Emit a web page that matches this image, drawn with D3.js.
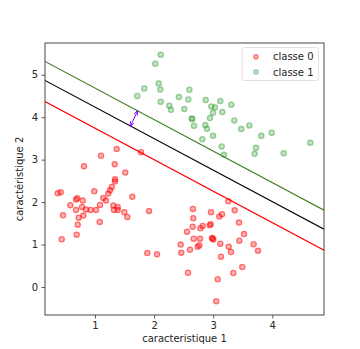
<!DOCTYPE html>
<html><head><meta charset="utf-8">
<script src="https://cdn.jsdelivr.net/npm/d3@7"></script>
<style>body{margin:0;background:#fff;} text{font-family:"DejaVu Sans",sans-serif;}</style>
</head><body><svg id="c" width="360" height="349"></svg>
<script>
const classe0X = [1.367,1.102,0.814,1.333,1.778,1.513,1.338,1.338,1.283,1.254,1.225,0.988,0.369,0.420,1.631,1.140,1.186,0.700,0.679,0.792,0.582,1.085,1.310,1.384,0.780,0.848,0.927,1.017,0.679,1.321,1.384,1.496,1.914,0.459,0.802,0.724,1.547,1.080,0.707,0.690,0.437,1.885,2.049,
3.256,2.658,3.364,2.963,3.149,3.103,2.663,3.437,2.958,2.941,2.822,2.782,2.653,2.557,3.521,2.980,3.002,2.670,2.777,3.442,3.120,2.450,2.765,2.738,3.262,3.685,2.607,3.301,3.758,2.460,3.132,3.492,2.574,3.340,3.076,3.052,2.990];
const classe0Y = [3.248,3.090,2.847,2.894,3.177,2.696,2.540,2.483,2.358,2.281,2.200,2.257,2.210,2.233,2.123,2.099,2.035,2.092,2.059,2.035,1.927,1.934,1.917,1.887,1.887,1.823,1.816,1.816,1.816,1.816,1.816,1.762,1.792,1.691,1.682,1.634,1.651,1.533,1.469,1.233,1.125,0.802,0.771,
2.021,1.840,1.809,1.762,1.715,1.658,1.620,1.517,1.479,1.455,1.439,1.384,1.422,1.304,1.250,1.156,1.116,1.139,1.139,1.092,1.021,0.998,0.983,0.950,0.950,1.007,0.880,0.825,0.856,0.809,0.715,0.472,0.337,0.330,0.182,-0.337,1.140];
const classe1X = [2.112,2.020,2.078,1.834,2.105,2.596,1.716,2.421,2.579,2.873,3.120,2.112,2.257,2.286,2.511,2.968,3.030,3.154,2.997,2.946,2.636,2.646,2.866,2.675,2.895,2.997,2.816,3.144,3.306,3.357,3.475,3.611,3.814,3.990,3.724,3.702,4.193,4.643,3.183];
const classe1Y = [5.472,5.259,4.795,4.677,4.653,4.646,4.498,4.474,4.417,4.403,4.380,4.363,4.269,4.175,4.191,4.252,4.229,4.120,4.104,3.979,3.969,3.955,3.814,3.797,3.726,3.561,3.483,3.309,4.292,3.922,3.719,3.804,3.561,3.632,3.278,3.137,3.153,3.396,3.113];
const lineSlope = -0.742;
const lineIntercepts = [4.484, 4.979, 5.427];
const lineColors = ["#ff0000", "#000000", "#3c7d1c"];
const arrowX = [1.60, 1.72];
const arrowY = [3.79, 4.151];
const xTicks = [1, 2, 3, 4];
const yTicks = [0, 1, 2, 3, 4, 5];
const legendLabels = ["classe 0", "classe 1"];
const classColors = ["#ff0000", "#2ca02c"];

const svg = d3.select("#c");
const L = 45, T = 43, W = 279, H = 272;
const x = d3.scaleLinear().domain([0.154, 4.875]).range([L, L + W]);
const y = d3.scaleLinear().domain([-0.660, 5.748]).range([T + H, T]);

svg.append("defs").append("clipPath").attr("id", "clip")
  .append("rect").attr("x", L).attr("y", T).attr("width", W).attr("height", H);

const plot = svg.append("g").attr("clip-path", "url(#clip)");

function drawPoints(xs, ys, col) {
  plot.append("g").selectAll("circle").data(xs.map((v, i) => [v, ys[i]])).join("circle")
    .attr("cx", d => x(d[0])).attr("cy", d => y(d[1])).attr("r", 2.6)
    .attr("fill", col).attr("fill-opacity", 0.3)
    .attr("stroke", col).attr("stroke-opacity", 0.5).attr("stroke-width", 1.3);
}
drawPoints(classe0X, classe0Y, classColors[0]);
drawPoints(classe1X, classe1Y, "#3da33d");

const xd = x.domain();
lineIntercepts.forEach((b, i) => {
  plot.append("line")
    .attr("x1", x(xd[0])).attr("y1", y(b + lineSlope * xd[0]))
    .attr("x2", x(xd[1])).attr("y2", y(b + lineSlope * xd[1]))
    .attr("stroke", lineColors[i]).attr("stroke-width", 1.1);
});

// double-headed arrow
const defs = svg.select("defs");
defs.append("marker").attr("id", "ah").attr("viewBox", "0 0 10 10").attr("refX", 9).attr("refY", 5)
  .attr("markerWidth", 5).attr("markerHeight", 5).attr("orient", "auto-start-reverse")
  .append("path").attr("d", "M0,1 L10,5 L0,9").attr("fill", "none").attr("stroke", "#8a00ff").attr("stroke-width", 1.6);
plot.append("line")
  .attr("x1", x(arrowX[0])).attr("y1", y(arrowY[0]))
  .attr("x2", x(arrowX[1])).attr("y2", y(arrowY[1]))
  .attr("stroke", "#8a00ff").attr("stroke-width", 1)
  .attr("marker-start", "url(#ah)").attr("marker-end", "url(#ah)");

// axes
const xAxis = svg.append("g").attr("transform", `translate(0,${T + H})`)
  .call(d3.axisBottom(x).tickValues(xTicks).tickSize(3.5).tickPadding(3.5).tickFormat(d3.format("d")));
const yAxis = svg.append("g").attr("transform", `translate(${L},0)`)
  .call(d3.axisLeft(y).tickValues(yTicks).tickSize(3.5).tickPadding(3.5).tickFormat(d3.format("d")));
[xAxis, yAxis].forEach(a => {
  a.select(".domain").remove();
  a.selectAll(".tick line").attr("stroke", "#333").attr("stroke-width", 0.8);
  a.selectAll(".tick text").attr("fill", "#262626").attr("font-size", 10).attr("font-family", "DejaVu Sans");
});

svg.append("rect").attr("x", L).attr("y", T).attr("width", W).attr("height", H)
  .attr("fill", "none").attr("stroke", "#333").attr("stroke-width", 0.9);

svg.append("text").attr("x", L + W / 2).attr("y", 342).attr("text-anchor", "middle")
  .attr("font-size", 10).attr("fill", "#262626").text("caracteristique 1");
svg.append("text").attr("transform", `translate(23,${T + H / 2}) rotate(-90)`).attr("text-anchor", "middle")
  .attr("font-size", 10).attr("fill", "#262626").text("caractéristique 2");

// legend
const lg = svg.append("g");
lg.append("rect").attr("x", 242).attr("y", 47.5).attr("width", 76.5).attr("height", 33).attr("rx", 2)
  .attr("fill", "#fff").attr("fill-opacity", 0.8).attr("stroke", "#d8d8d8").attr("stroke-width", 0.8);
legendLabels.forEach((t, i) => {
  const cy = 56.7 + i * 15.3;
  lg.append("circle").attr("cx", 256).attr("cy", cy).attr("r", 2.2)
    .attr("fill", i ? "#3da33d" : classColors[0]).attr("fill-opacity", 0.3)
    .attr("stroke", i ? "#3da33d" : classColors[0]).attr("stroke-opacity", 0.5).attr("stroke-width", 1.2);
  lg.append("text").attr("x", 273).attr("y", cy + 3.6).attr("font-size", 10).attr("fill", "#262626").text(t);
});
</script></body></html>
